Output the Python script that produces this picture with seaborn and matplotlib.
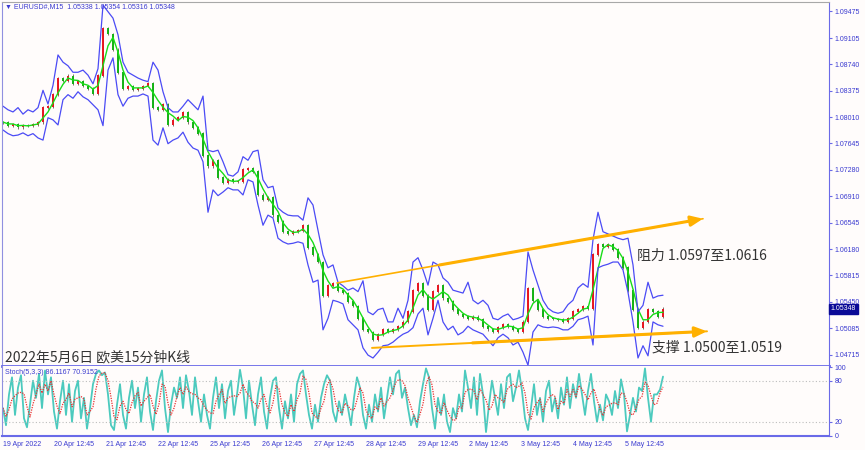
import numpy as np
import pandas as pd
import matplotlib
matplotlib.use("Agg")
import matplotlib.pyplot as plt
import matplotlib.transforms as mtrans
import seaborn as sns

sns.set_style("white")
plt.rcParams['font.family'] = ['Liberation Sans', 'DejaVu Sans']

# EURUSD M15, one sample every ~9 bars
close = [1.0794, 1.0789, 1.0791, 1.0787, 1.0790, 1.0789, 1.0791, 1.0794, 1.0814, 1.0816,
         1.0832, 1.0855, 1.0852, 1.0858, 1.0847, 1.0850, 1.0844, 1.0841, 1.0834, 1.0859,
         1.0924, 1.0916, 1.0894, 1.0863, 1.0841, 1.0844, 1.0839, 1.0841, 1.0844, 1.0847,
         1.0814, 1.0811, 1.0819, 1.0791, 1.0797, 1.0800, 1.0808, 1.0794, 1.0786, 1.0778,
         1.0748, 1.0733, 1.0741, 1.0717, 1.0710, 1.0714, 1.0711, 1.0712, 1.0728, 1.0730,
         1.0725, 1.0693, 1.0686, 1.0689, 1.0665, 1.0656, 1.0642, 1.0639, 1.0642, 1.0644,
         1.0651, 1.0620, 1.0610, 1.0600, 1.0554, 1.0567, 1.0570, 1.0561, 1.0557, 1.0545,
         1.0539, 1.0522, 1.0506, 1.0503, 1.0492, 1.0500, 1.0506, 1.0503, 1.0506, 1.0511,
         1.0517, 1.0531, 1.0561, 1.0571, 1.0553, 1.0534, 1.0559, 1.0568, 1.0550, 1.0545,
         1.0534, 1.0528, 1.0525, 1.0522, 1.0524, 1.0520, 1.0511, 1.0507, 1.0504, 1.0509,
         1.0514, 1.0511, 1.0506, 1.0504, 1.0517, 1.0564, 1.0547, 1.0534, 1.0525, 1.0522,
         1.0521, 1.0520, 1.0518, 1.0522, 1.0531, 1.0534, 1.0539, 1.0536, 1.0610, 1.0625,
         1.0622, 1.0625, 1.0617, 1.0606, 1.0592, 1.0561, 1.0534, 1.0509, 1.0517, 1.0534,
         1.0531, 1.0525, 1.0535]

bb_upper = [1.0816, 1.0811, 1.0808, 1.0814, 1.0805, 1.0811, 1.0808, 1.0814, 1.0838, 1.0819,
            1.0845, 1.0887, 1.0877, 1.0872, 1.0863, 1.0863, 1.0866, 1.0859, 1.0847, 1.0868,
            1.0956, 1.0947, 1.0938, 1.0915, 1.0877, 1.0863, 1.0859, 1.0855, 1.0852, 1.0850,
            1.0877, 1.0866, 1.0836, 1.0814, 1.0808, 1.0808, 1.0816, 1.0825, 1.0818, 1.0811,
            1.0830, 1.0755, 1.0753, 1.0755, 1.0739, 1.0721, 1.0719, 1.0725, 1.0746, 1.0741,
            1.0753, 1.0755, 1.0714, 1.0703, 1.0705, 1.0675, 1.0669, 1.0665, 1.0664, 1.0664,
            1.0658, 1.0689, 1.0679, 1.0644, 1.0610, 1.0592, 1.0596, 1.0572, 1.0567, 1.0561,
            1.0564, 1.0559, 1.0574, 1.0531, 1.0527, 1.0534, 1.0536, 1.0517, 1.0517, 1.0536,
            1.0522, 1.0547, 1.0600, 1.0606, 1.0589, 1.0568, 1.0600, 1.0596, 1.0578, 1.0572,
            1.0561, 1.0559, 1.0557, 1.0572, 1.0547, 1.0542, 1.0547, 1.0540, 1.0522, 1.0520,
            1.0525, 1.0528, 1.0520, 1.0522, 1.0525, 1.0614, 1.0589, 1.0568, 1.0547, 1.0536,
            1.0531, 1.0529, 1.0531, 1.0541, 1.0547, 1.0564, 1.0570, 1.0565, 1.0631, 1.0669,
            1.0642, 1.0639, 1.0636, 1.0633, 1.0631, 1.0633, 1.0596, 1.0531, 1.0540, 1.0572,
            1.0550, 1.0553, 1.0554]

bb_lower = [1.0783, 1.0778, 1.0775, 1.0776, 1.0779, 1.0775, 1.0778, 1.0772, 1.0769, 1.0800,
            1.0797, 1.0790, 1.0825, 1.0832, 1.0827, 1.0836, 1.0829, 1.0825, 1.0818, 1.0811,
            1.0789, 1.0866, 1.0883, 1.0832, 1.0816, 1.0827, 1.0830, 1.0830, 1.0833, 1.0830,
            1.0769, 1.0762, 1.0786, 1.0764, 1.0769, 1.0772, 1.0780, 1.0766, 1.0758, 1.0755,
            1.0739, 1.0669, 1.0700, 1.0692, 1.0697, 1.0703, 1.0700, 1.0700, 1.0693, 1.0714,
            1.0711, 1.0679, 1.0651, 1.0665, 1.0661, 1.0633, 1.0628, 1.0625, 1.0626, 1.0628,
            1.0626, 1.0596, 1.0572, 1.0575, 1.0506, 1.0522, 1.0547, 1.0545, 1.0542, 1.0520,
            1.0513, 1.0506, 1.0481, 1.0471, 1.0467, 1.0475, 1.0484, 1.0485, 1.0489, 1.0495,
            1.0500, 1.0503, 1.0509, 1.0528, 1.0536, 1.0499, 1.0522, 1.0547, 1.0517, 1.0506,
            1.0511, 1.0499, 1.0503, 1.0511, 1.0506, 1.0503, 1.0500, 1.0492, 1.0484, 1.0495,
            1.0500, 1.0495, 1.0485, 1.0489, 1.0475, 1.0457, 1.0503, 1.0513, 1.0510, 1.0509,
            1.0510, 1.0509, 1.0506, 1.0506, 1.0511, 1.0520, 1.0522, 1.0525, 1.0485, 1.0592,
            1.0595, 1.0597, 1.0600, 1.0600, 1.0589, 1.0558, 1.0517, 1.0467, 1.0484, 1.0470,
            1.0517, 1.0513, 1.0511]

# Stochastic (5,3,3), one value every ~5 bars
stoch_k = [40, 15, 60, 85, 30, 70, 88, 25, 12, 45, 80, 55, 90, 40, 95, 60, 85, 35, 10, 50,
           80, 30, 75, 20, 65, 80, 25, 55, 10, 40, 75, 90, 95, 88, 92, 60, 15, 8, 45, 75,
           30, 10, 55, 80, 40, 70, 20, 60, 85, 35, 8, 50, 80, 95, 40, 5, 45, 70, 55, 85,
           40, 88, 65, 30, 85, 50, 20, 60, 30, 10, 55, 85, 40, 75, 25, 65, 80, 30, 60, 96,
           70, 25, 80, 45, 15, 60, 85, 35, 10, 55, 80, 85, 40, 10, 50, 25, 60, 20, 75, 90,
           95, 60, 30, 10, 45, 20, 55, 75, 88, 80, 35, 20, 50, 30, 60, 40, 15, 55, 85, 70,
           30, 10, 45, 20, 60, 35, 70, 25, 55, 85, 60, 90, 95, 55, 70, 40, 15, 30, 12, 50,
           75, 98, 85, 40, 10, 55, 30, 60, 20, 5, 40, 25, 60, 35, 95, 70, 40, 85, 30, 90,
           60, 5, 45, 80, 55, 30, 75, 40, 85, 90, 50, 70, 95, 65, 25, 8, 40, 75, 30, 55,
           20, 65, 80, 35, 55, 25, 70, 45, 85, 40, 75, 55, 90, 60, 30, 65, 90, 50, 20, 45,
           22, 60, 50, 30, 65, 40, 82, 60, 6, 30, 55, 35, 70, 65, 98, 55, 20, 60, 60, 67,
           86]
stoch_d = [40, 28, 38, 53, 58, 62, 63, 61, 42, 27, 46, 60, 75, 62, 75, 65, 80, 60, 43, 32,
           47, 53, 62, 42, 53, 55, 57, 53, 30, 35, 42, 68, 87, 91, 92, 80, 56, 28, 23, 43,
           50, 38, 32, 48, 58, 63, 43, 50, 55, 60, 43, 31, 46, 75, 72, 47, 30, 40, 57, 70,
           60, 71, 64, 61, 60, 55, 52, 43, 37, 33, 32, 50, 60, 67, 47, 55, 57, 58, 57, 62,
           75, 64, 58, 50, 47, 40, 53, 60, 43, 33, 48, 73, 68, 45, 33, 28, 45, 35, 52, 62,
           87, 82, 62, 33, 28, 25, 40, 50, 73, 81, 68, 45, 35, 33, 47, 43, 38, 37, 52, 70,
           62, 37, 28, 25, 42, 38, 55, 43, 50, 55, 67, 78, 82, 80, 73, 55, 42, 28, 19, 31,
           46, 74, 86, 74, 45, 35, 32, 48, 37, 28, 22, 23, 42, 40, 63, 67, 68, 65, 52, 68,
           60, 52, 37, 43, 60, 55, 53, 48, 67, 72, 75, 70, 72, 77, 62, 33, 24, 41, 48, 53,
           35, 47, 55, 60, 57, 38, 50, 47, 67, 57, 67, 57, 73, 68, 60, 52, 62, 68, 53, 38,
           29, 42, 44, 47, 48, 45, 62, 61, 49, 32, 30, 40, 53, 57, 78, 73, 58, 45, 47, 62,
           71]

price_ticks = [1.04715, 1.05085, 1.05450, 1.05815, 1.06180, 1.06545, 1.06910,
               1.07280, 1.07645, 1.08010, 1.08375, 1.08740, 1.09105, 1.09475]
time_labels = ["19 Apr 2022", "20 Apr 12:45", "21 Apr 12:45", "22 Apr 12:45", "25 Apr 12:45",
               "26 Apr 12:45", "27 Apr 12:45", "28 Apr 12:45", "29 Apr 12:45", "2 May 12:45",
               "3 May 12:45", "4 May 12:45", "5 May 12:45"]
time_pos = [0, 10.1, 20.5, 31.0, 41.4, 51.8, 62.1, 72.5, 82.9, 93.2, 103.6, 113.9, 124.4]

# trend lines drawn on the chart (sample index, price)
resist_x, resist_y = [66.8, 140.0], [1.0571, 1.0660]
support_x, support_y = [73.8, 140.8], [1.0481, 1.0504]

bg = "#FFFCFB"
axis_blue = "#6a6ae8"
text_blue = "#3a3ad0"
band_blue = "#4b4bf5"
orange = "#FFB000"

fig = plt.figure(figsize=(8.65, 4.5), dpi=100, facecolor=bg)
ax = fig.add_axes([2 / 865, 84 / 450, 827 / 865, 364 / 450], facecolor=bg)
ax2 = fig.add_axes([2 / 865, 14.5 / 450, 827 / 865, 69.5 / 450], facecolor=bg)

# --- price panel ---
s = np.arange(len(close))
c = np.array(close)
o = np.r_[c[0], c[:-1]]
candle_col = np.where(c >= o, "#e8141e", "#13b313")
ax.vlines(s, np.minimum(o, c) - 0.0002, np.maximum(o, c) + 0.0002, color="#4a3a2a", lw=0.5)
ax.vlines(s, np.minimum(o, c) - 0.00005, np.maximum(o, c) + 0.00005, color=candle_col, lw=1.4)
ma = pd.Series(close).rolling(3, min_periods=1).mean()
sns.lineplot(x=s, y=ma, ax=ax, color="#18dd18", lw=1.0)
sns.lineplot(x=s, y=bb_upper, ax=ax, color=band_blue, lw=0.9)
sns.lineplot(x=s, y=bb_lower, ax=ax, color=band_blue, lw=0.9)

ax.plot(resist_x, resist_y, color=orange, lw=1.2)
ax.plot(support_x, support_y, color=orange, lw=1.4)
for lx, ly, f in [(resist_x, resist_y, 0.28), (support_x, support_y, 0.3)]:
    x0 = lx[0] + f * (lx[1] - lx[0])
    y0 = ly[0] + f * (ly[1] - ly[0])
    ax.annotate("", xy=(lx[1], ly[1]), xytext=(x0, y0),
                arrowprops=dict(arrowstyle="-|>,head_length=0.7,head_width=0.3",
                                color=orange, lw=2.2, shrinkA=0, shrinkB=0))

ax.set_xlim(-0.2, 165.2)
ax.set_ylim(1.04559, 1.09604)
ax.yaxis.tick_right()
ax.set_yticks(price_ticks)
ax.set_yticklabels([f"{p:.5f}" for p in price_ticks])
ax.set_xticks([])
ax.tick_params(axis="y", direction="out", length=2, width=0.8, colors=axis_blue,
               labelcolor=text_blue, labelsize=5, pad=2)
ax.set_xlabel("")
ax.set_ylabel("")
ax.spines["left"].set_color("#9090e0")
ax.spines["top"].set_color("#a8a8a8")
ax.spines["right"].set_color(axis_blue)
ax.spines["bottom"].set_color(axis_blue)
ax.spines["bottom"].set_linewidth(2)

trans = mtrans.blended_transform_factory(ax.transAxes, ax.transData)
ax.text(1.002, close[-1], "1.05348", transform=trans, fontsize=5, color="white",
        va="center", ha="left",
        bbox=dict(boxstyle="square,pad=0.25", fc="#0a0a96", ec="#0a0a96"))

# --- stochastic panel ---
si = np.arange(len(stoch_k)) * 0.6
sns.lineplot(x=si, y=stoch_k, ax=ax2, color="#4ccabe", lw=1.3)
sns.lineplot(x=si, y=stoch_d, ax=ax2, color="#e83030", lw=0.9, linestyle=(0, (1, 1)))
for lv in (20, 80):
    ax2.axhline(lv, color="#bdbdbd", lw=0.8, ls=(0, (1, 2)))
ax2.set_xlim(-0.2, 165.2)
ax2.set_ylim(0, 101.5)
ax2.yaxis.tick_right()
ax2.set_yticks([0, 20, 80, 100])
ax2.set_xticks(time_pos)
ax2.set_xticklabels(time_labels)
for lbl in ax2.get_xticklabels():
    lbl.set_ha("left")
ax2.tick_params(axis="both", direction="out", length=3, width=0.8, colors=axis_blue,
                labelcolor=text_blue, labelsize=5, pad=1)
ax2.tick_params(axis="y", length=2, pad=2)
ax2.set_xlabel("")
ax2.set_ylabel("")
ax2.spines["top"].set_visible(False)
ax2.spines["left"].set_color("#9090e0")
ax2.spines["right"].set_color(axis_blue)
ax2.spines["bottom"].set_color(axis_blue)
ax2.spines["bottom"].set_linewidth(1.5)

# --- texts ---
fig.text(5 / 865, 1 - 7 / 450, "\u25bc EURUSD#,M15  1.05338 1.05354 1.05316 1.05348",
         fontsize=5, color=text_blue, va="center", ha="left")
fig.text(5 / 865, 1 - 372 / 450, "Stoch(5,3,3) 86.1167 70.9152",
         fontsize=5, color=text_blue, va="center", ha="left")
cjk = ["Noto Sans CJK SC", "DejaVu Sans"]
fig.text(5 / 865, 1 - 357 / 450, "2022年5月6日 欧美15分钟K线", family=cjk,
         fontsize=10, color="#333333", va="center", ha="left")
fig.text(637 / 865, 1 - 256 / 450, "阻力 1.0597至1.0616", family=cjk,
         fontsize=10, color="#333333", va="center", ha="left")
fig.text(652 / 865, 1 - 348 / 450, "支撑 1.0500至1.0519", family=cjk,
         fontsize=10, color="#333333", va="center", ha="left")

fig.savefig("out.png", dpi=100, facecolor=bg)
